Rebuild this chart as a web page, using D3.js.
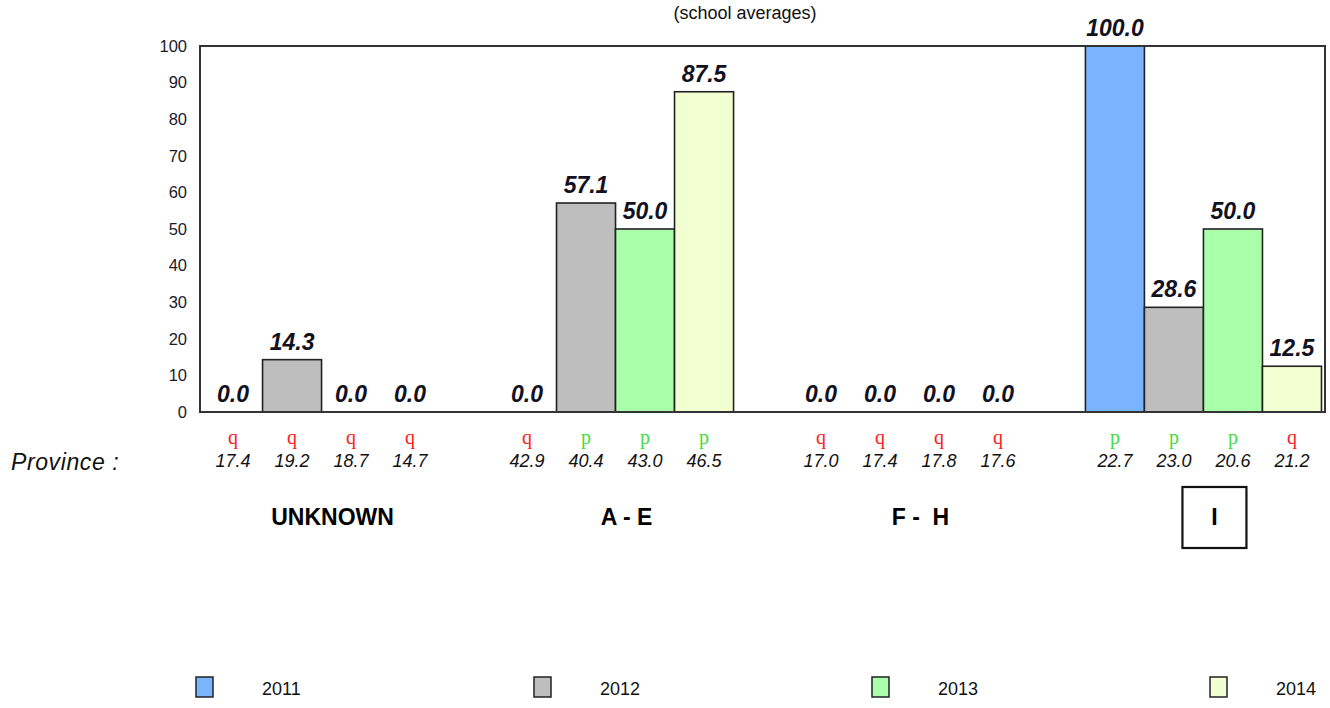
<!DOCTYPE html>
<html>
<head>
<meta charset="utf-8">
<script src="https://cdn.jsdelivr.net/npm/d3@7"></script>
<style>
  html, body { margin: 0; padding: 0; background: #fff; }
  svg { display: block; }
</style>
</head>
<body>
<svg id="chart" width="1330" height="708" font-family="Liberation Sans, Arial, sans-serif"></svg>
<script>
const title = "(school averages)";
const provinces = ["UNKNOWN", "A - E", "F -  H", "I"];
const highlighted = "I";
const years = ["2011", "2012", "2013", "2014"];
const colors = ["#7ab4ff", "#bebebe", "#aaffaa", "#f2ffd0"];

const values2011 = [0.0, 0.0, 0.0, 100.0];
const values2012 = [14.3, 57.1, 0.0, 28.6];
const values2013 = [0.0, 50.0, 0.0, 50.0];
const values2014 = [0.0, 87.5, 0.0, 12.5];

const province2011 = [17.4, 42.9, 17.0, 22.7];
const province2012 = [19.2, 40.4, 17.4, 23.0];
const province2013 = [18.7, 43.0, 17.8, 20.6];
const province2014 = [14.7, 46.5, 17.6, 21.2];

// "q" = below / down, "p" = above / up
const trend2011 = ["q", "q", "q", "p"];
const trend2012 = ["q", "p", "q", "p"];
const trend2013 = ["q", "p", "q", "p"];
const trend2014 = ["q", "p", "q", "q"];

const yTicks = [0, 10, 20, 30, 40, 50, 60, 70, 80, 90, 100];

const values = [values2011, values2012, values2013, values2014];
const provVals = [province2011, province2012, province2013, province2014];
const trends = [trend2011, trend2012, trend2013, trend2014];

const svg = d3.select("#chart");
const pLeft = 200, pRight = 1325, pTop = 46, pBottom = 412;
const SANS = "Liberation Sans, Arial, sans-serif";
const SERIF = "Liberation Serif, Times New Roman, serif";

const x0 = d3.scaleBand().domain(provinces).range([pLeft, pRight])
  .paddingInner(0.197).paddingOuter(0.012);
const x1 = d3.scaleBand().domain(years).range([0, x0.bandwidth()]);
const y = d3.scaleLinear().domain([0, 100]).range([pBottom, pTop]);
const color = d3.scaleOrdinal().domain(years).range(colors);

// Title
svg.append("text").attr("x", 745).attr("y", 19).attr("text-anchor", "middle")
  .style("font-family", SANS).attr("font-size", 18).attr("fill", "#111").text(title);

// Flat data
const cells = [];
provinces.forEach((p, pi) => {
  years.forEach((yr, yi) => {
    cells.push({ p, yr, v: values[yi][pi], pv: provVals[yi][pi], t: trends[yi][pi] });
  });
});

// Bars
svg.append("g").selectAll("rect").data(cells.filter(d => d.v > 0)).join("rect")
  .attr("x", d => x0(d.p) + x1(d.yr))
  .attr("y", d => y(d.v))
  .attr("width", x1.bandwidth())
  .attr("height", d => y(0) - y(d.v))
  .attr("fill", d => color(d.yr))
  .attr("stroke", "#222").attr("stroke-width", 1.6);

// Frame
svg.append("rect").attr("x", pLeft).attr("y", pTop)
  .attr("width", pRight - pLeft).attr("height", pBottom - pTop)
  .attr("fill", "none").attr("stroke", "#333").attr("stroke-width", 2);

// Y axis labels
const yAxis = d3.axisLeft(y).tickValues(yTicks).tickSize(0).tickPadding(13);
const yg = svg.append("g").attr("transform", `translate(${pLeft},0)`).call(yAxis);
yg.select(".domain").remove();
yg.selectAll("text").style("font-family", SANS).style("font-size", "16.5px")
  .attr("fill", "#1a1a2a");

// Value labels
const cx = d => x0(d.p) + x1(d.yr) + x1.bandwidth() / 2;
svg.append("g").selectAll("text").data(cells).join("text")
  .attr("x", cx)
  .attr("y", d => y(d.v) - 10)
  .attr("text-anchor", "middle")
  .style("font-family", SANS)
  .attr("font-size", 23).attr("font-weight", "bold").attr("font-style", "italic")
  .attr("fill", "#111122")
  .text(d => d.v.toFixed(1));

// Trend symbols
svg.append("g").selectAll("text").data(cells).join("text")
  .attr("x", cx).attr("y", 444)
  .attr("text-anchor", "middle")
  .style("font-family", SERIF)
  .attr("font-size", 20)
  .attr("fill", d => d.t === "q" ? "#ff2020" : "#40dd40")
  .text(d => d.t);

// Province values
svg.append("g").selectAll("text").data(cells).join("text")
  .attr("x", cx).attr("y", 467)
  .attr("text-anchor", "middle")
  .style("font-family", SANS)
  .attr("font-size", 18).attr("font-style", "italic").attr("fill", "#111")
  .text(d => d.pv.toFixed(1));

svg.append("text").attr("x", 11).attr("y", 470)
  .style("font-family", SANS)
  .attr("font-size", 23).attr("letter-spacing", 0.6)
  .attr("font-style", "italic").attr("fill", "#111")
  .text("Province :");

// Group labels
const gx = p => x0(p) + x0.bandwidth() / 2 + 11;
svg.append("g").selectAll("text").data(provinces).join("text")
  .attr("x", gx).attr("y", 525)
  .attr("text-anchor", "middle")
  .style("font-family", SANS)
  .attr("font-size", 23).attr("font-weight", "bold").attr("fill", "#000")
  .style("white-space", "pre")
  .text(d => d);

svg.append("rect")
  .attr("x", gx(highlighted) - 32).attr("y", 487)
  .attr("width", 64).attr("height", 61)
  .attr("fill", "none").attr("stroke", "#111").attr("stroke-width", 2.2);

// Legend
const lx = d3.scalePoint().domain(years).range([196, 1210]);
const lg = svg.append("g").selectAll("g").data(years).join("g")
  .attr("transform", d => `translate(${lx(d)},677)`);
lg.append("rect").attr("width", 17).attr("height", 20)
  .attr("fill", d => color(d)).attr("stroke", "#222").attr("stroke-width", 1.5);
lg.append("text").attr("x", 66).attr("y", 18)
  .style("font-family", SANS)
  .attr("font-size", 18).attr("fill", "#111").text(d => d);
</script>
</body>
</html>
